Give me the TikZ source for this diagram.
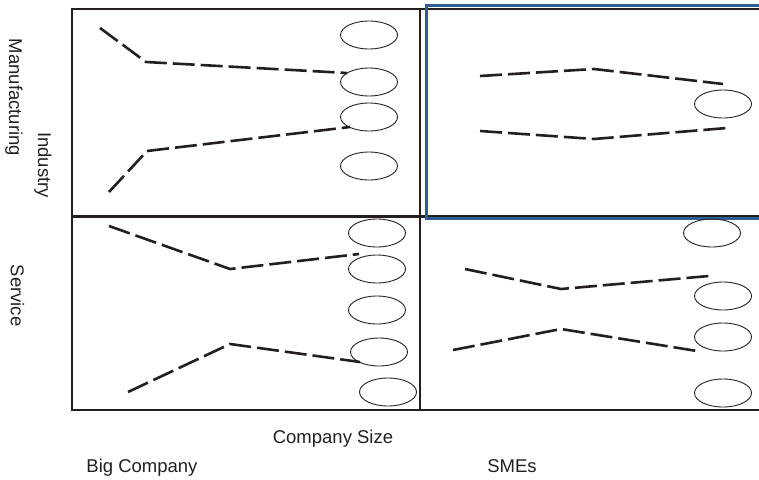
\documentclass[tikz,border=0pt]{standalone}
\usepackage{fontspec}
\setmainfont{Liberation Sans}
\usetikzlibrary{shapes.geometric}
\definecolor{hlblue}{RGB}{44,95,145}
\definecolor{ink}{RGB}{35,31,32}
\begin{document}
\begin{tikzpicture}[x=1pt,y=-1pt,
  frame/.style={draw=ink, line width=2.2pt},
  hlbox/.style={draw=hlblue, line width=2.4pt},
  trend/.style={draw=ink, line width=2.6pt, dash pattern=on 22pt off 6pt},
  slot/.style={ellipse, draw=ink, line width=0.9pt, minimum width=57pt,
    minimum height=28pt, inner sep=0pt},
  lbl/.style={font=\fontsize{18.5}{22}\selectfont, text=ink, inner sep=0pt}]

\clip (0,0) rectangle (759,479);

% quadrant grid (right side runs past the page edge)
\draw[frame] (72,9) rectangle (770,410);
\draw[frame] (420,9) -- (420,410);
\draw[frame] (72,216.5) -- (770,216.5);
% highlighted quadrant
\draw[hlbox] (426.5,5.5) rectangle (775,218.5);

% axis labels
\node[lbl, rotate=-90] (manu) at (14,97.5) {Manufacturing};
\node[lbl, rotate=-90] (ind)  at (43,165) {Industry};
\node[lbl, rotate=-90] (serv) at (17.5,295.5) {Service};
\node[lbl, anchor=base] (size) at (333,443) {Company Size};
\node[lbl, anchor=base] (big)  at (142,472.5) {Big Company};
\node[lbl, anchor=base] (smes) at (512,472) {SMEs};

% ellipses: big company / manufacturing
\node[slot] (tl1) at (369,35) {};
\node[slot] (tl2) at (369,82) {};
\node[slot] (tl3) at (369,117) {};
\node[slot] (tl4) at (369,166) {};
% SMEs / manufacturing
\node[slot] (tr1) at (723,104) {};
% big company / service
\node[slot] (bl1) at (377,233) {};
\node[slot] (bl2) at (377,269) {};
\node[slot] (bl3) at (377,310) {};
\node[slot] (bl4) at (379,352) {};
\node[slot] (bl5) at (388,392) {};
% SMEs / service
\node[slot] (br1) at (712,233) {};
\node[slot] (br2) at (723,296) {};
\node[slot] (br3) at (723,337) {};
\node[slot] (br4) at (723,393) {};

% trend line points
\coordinate (a0) at (100,28);  \coordinate (a1) at (146,62);  \coordinate (a2) at (347,73);
\coordinate (b0) at (109,192); \coordinate (b1) at (147,151); \coordinate (b2) at (350,127);
\coordinate (c0) at (480,76);  \coordinate (c1) at (594,69);  \coordinate (c2) at (723,84);
\coordinate (d0) at (480,131); \coordinate (d1) at (594,139); \coordinate (d2) at (727,128);
\coordinate (e0) at (109,226); \coordinate (e1) at (230,269); \coordinate (e2) at (359,254);
\coordinate (f0) at (128,392); \coordinate (f1) at (230,344); \coordinate (f2) at (360,362);
\coordinate (g0) at (465,269); \coordinate (g1) at (561,289); \coordinate (g2) at (709,276);
\coordinate (h0) at (453,350); \coordinate (h1) at (561,329); \coordinate (h2) at (697,351);

\draw[trend] (a0) -- (a1) -- (a2);
\draw[trend] (b0) -- (b1) -- (b2);
\draw[trend] (c0) -- (c1) -- (c2);
\draw[trend] (d0) -- (d1) -- (d2);
\draw[trend] (e0) -- (e1) -- (e2);
\draw[trend] (f0) -- (f1) -- (f2);
\draw[trend] (g0) -- (g1) -- (g2);
\draw[trend] (h0) -- (h1) -- (h2);
\end{tikzpicture}
\end{document}
